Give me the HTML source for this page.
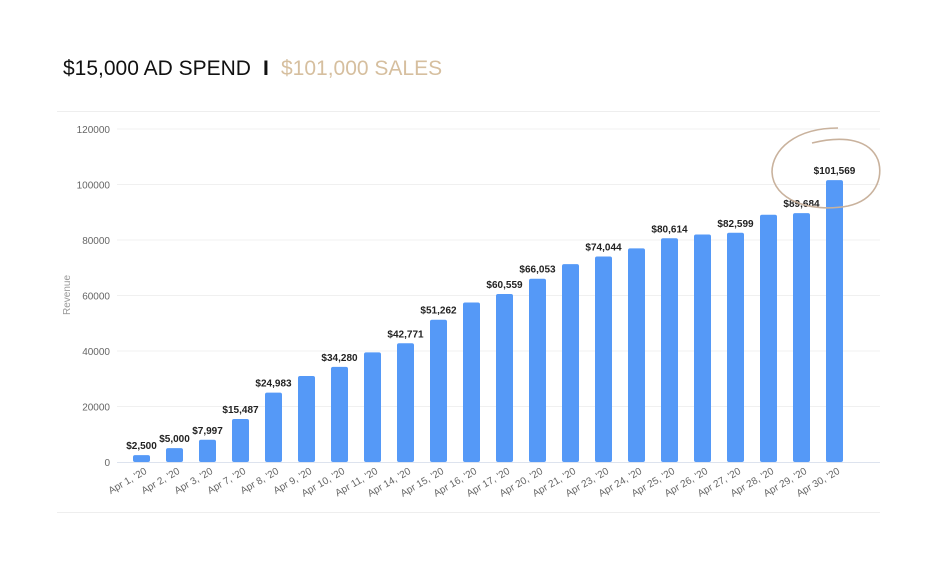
<!DOCTYPE html>
<html><head><meta charset="utf-8"><style>
body{margin:0;background:#fff;}
svg{display:block;font-family:"Liberation Sans",Arial,sans-serif;}
</style></head><body>
<svg width="938" height="568" viewBox="0 0 938 568">
<text x="63" y="75" font-size="21" fill="#111">$15,000 AD SPEND</text>
<text x="263" y="75" font-size="21" fill="#111" font-weight="bold">I</text>
<text x="281" y="75" font-size="21" fill="#d6bf9f">$101,000 SALES</text>
<line x1="57" y1="111.5" x2="880" y2="111.5" stroke="#eee"/>
<line x1="57" y1="512.5" x2="880" y2="512.5" stroke="#eee"/>
<g id="grid" stroke="#f0f0f0">
<line x1="117" y1="129" x2="880" y2="129"/>
<line x1="117" y1="184.5" x2="880" y2="184.5"/>
<line x1="117" y1="240" x2="880" y2="240"/>
<line x1="117" y1="295.5" x2="880" y2="295.5"/>
<line x1="117" y1="351" x2="880" y2="351"/>
<line x1="117" y1="406.5" x2="880" y2="406.5"/>
<line x1="117" y1="462.5" x2="880" y2="462.5" stroke="#dde3ee"/>
</g>
<g font-size="10" fill="#666" text-anchor="end">
<text x="110" y="133">120000</text>
<text x="110" y="188.5">100000</text>
<text x="110" y="244">80000</text>
<text x="110" y="299.5">60000</text>
<text x="110" y="355">40000</text>
<text x="110" y="410.5">20000</text>
<text x="110" y="466">0</text>
</g>
<text transform="translate(70,295) rotate(-90)" font-size="10" fill="#999" text-anchor="middle">Revenue</text>
<g id="bars"></g>
<g fill="none" stroke="#c9b29d" stroke-width="1.6">
<path d="M838 128 C795 128 772 150 772 172 C773 200 810 213 848 206 C875 200 884 178 878 160 C870 140 845 135 812 143"/>
</g>
</svg>
<script>
var d=[["Apr 1, '20",2500,1],["Apr 2, '20",5000,1],["Apr 3, '20",7997,1],["Apr 7, '20",15487,1],["Apr 8, '20",24983,1],["Apr 9, '20",31000,0],["Apr 10, '20",34280,1],["Apr 11, '20",39500,0],["Apr 14, '20",42771,1],["Apr 15, '20",51262,1],["Apr 16, '20",57500,0],["Apr 17, '20",60559,1],["Apr 20, '20",66053,1],["Apr 21, '20",71300,0],["Apr 23, '20",74044,1],["Apr 24, '20",77000,0],["Apr 25, '20",80614,1],["Apr 26, '20",82000,0],["Apr 27, '20",82599,1],["Apr 28, '20",89100,0],["Apr 29, '20",89684,1],["Apr 30, '20",101569,1]];
var g=document.getElementById('bars'),s='';
var n=d.length,x0=141.5,x1=834.5,step=(x1-x0)/(n-1);
d.forEach(function(r,i){
 var cx=x0+i*step,h=r[1]/120000*333,y=462-h;
 s+='<rect x="'+(cx-8.5)+'" y="'+y+'" width="17" height="'+h+'" rx="2" fill="#5599f7"/>';
 if(r[2])s+='<text x="'+cx+'" y="'+(y-6)+'" font-size="10" font-weight="bold" fill="#222" text-anchor="middle">$'+r[1].toLocaleString('en-US')+'</text>';
 s+='<text transform="translate('+(cx+6)+',473) rotate(-30)" font-size="10" fill="#666" text-anchor="end">'+r[0]+'</text>';
});
g.innerHTML=s;
</script>
</body></html>
